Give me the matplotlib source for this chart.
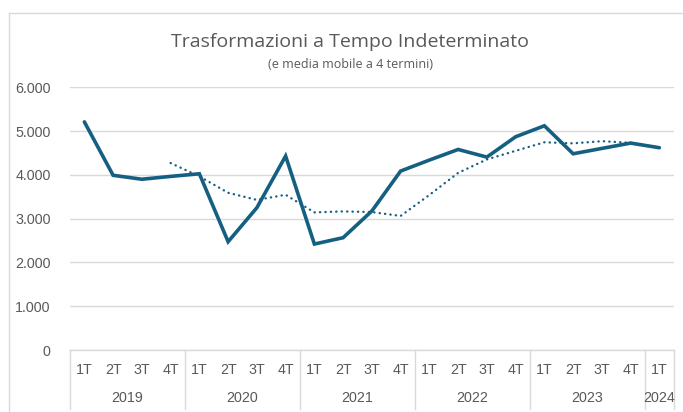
import matplotlib
matplotlib.use("Agg")
import matplotlib.pyplot as plt
from matplotlib.lines import Line2D
import matplotlib.transforms as mtransforms

# ---- data ----
years = ["2019", "2020", "2021", "2022", "2023", "2024"]
quarters = ["1T", "2T", "3T", "4T"] * 5 + ["1T"]
year_sizes = [4, 4, 4, 4, 4, 1]
values = [5210, 3990, 3900, 3965, 4025, 2473, 3250, 4430, 2420, 2565, 3175,
          4087, 4338, 4580, 4406, 4870, 5121, 4482, 4604, 4726, 4620]
moving_avg = [None, None, None, 4270, 3965, 3591, 3428, 3545, 3143, 3166, 3150,
              3062, 3541, 4045, 4353, 4549, 4744, 4720, 4769, 4733, 4608]
yticks = [0, 1000, 2000, 3000, 4000, 5000, 6000]
ytick_labels = ["0", "1.000", "2.000", "3.000", "4.000", "5.000", "6.000"]
title = "Trasformazioni a Tempo Indeterminato"
subtitle = "(e media mobile a 4 termini)"

# ---- style ----
W, H = 683, 412
line_color = "#156082"
grid_color = "#d9d9d9"
text_color = "#595959"
narrow = ["Liberation Sans", "DejaVu Sans"]
tfs = 10.3

fig = plt.figure(figsize=(W / 100, H / 100), dpi=100)
ax = fig.add_axes([70 / W, 1 - 350 / H, (673.75 - 70) / W, (350 - 87.3) / H])

n = len(values)
xs = list(range(n))
ax.plot(xs, values, color=line_color, lw=2.6, solid_joinstyle="miter",
        solid_capstyle="round", zorder=3)
ma_x = [x for x, v in zip(xs, moving_avg) if v is not None]
ma_y = [v for v in moving_avg if v is not None]
ax.plot(ma_x, ma_y, color=line_color, lw=1.7, linestyle=(0, (0.1, 2.2)),
        dash_capstyle="round", zorder=2)

ax.set_xlim(-0.5, n - 0.5)
ax.set_ylim(0, 6000)
ax.set_yticks(yticks)
ax.set_yticklabels(ytick_labels, fontsize=tfs, color=text_color, family=narrow)
ax.tick_params(axis="y", length=0, pad=14)
ax.grid(axis="y", color=grid_color, lw=1)
ax.set_axisbelow(True)
for s in ["top", "right", "left"]:
    ax.spines[s].set_visible(False)
ax.spines["bottom"].set_color(grid_color)
ax.spines["bottom"].set_linewidth(1)

ax.set_xticks(xs)
ax.set_xticklabels(quarters, fontsize=tfs, color=text_color, family=narrow)
ax.tick_params(axis="x", length=0, pad=9)

# year labels and separators
trans = mtransforms.blended_transform_factory(ax.transData, fig.transFigure)
start = 0
bounds = [-0.5]
for yr, sz in zip(years, year_sizes):
    center = start + (sz - 1) / 2
    ax.text(center, 1 - 398 / H, yr, transform=trans, ha="center", va="center",
            fontsize=tfs, color=text_color, family=narrow)
    start += sz
    bounds.append(start - 0.5)
for b in bounds:
    ax.add_line(Line2D([b, b], [1 - 350 / H, 1 - 409 / H], transform=trans,
                       color=grid_color, lw=1, clip_on=False))

# title
fig.text(350 / W, 1 - 42 / H, title, ha="center", va="center", fontsize=14,
         color=text_color, family=["Open Sans", "DejaVu Sans"])
fig.text(350 / W, 1 - 64 / H, subtitle, ha="center", va="center", fontsize=9,
         color=text_color, family=["Open Sans", "DejaVu Sans"])

# chart area border (top and left)
fig.add_artist(Line2D([9 / W, 9 / W], [1 - 13 / H, 0], transform=fig.transFigure,
                      color=grid_color, lw=1))
fig.add_artist(Line2D([9 / W, 1], [1 - 13 / H, 1 - 13 / H], transform=fig.transFigure,
                      color=grid_color, lw=1))

fig.savefig("out.png", dpi=100)
